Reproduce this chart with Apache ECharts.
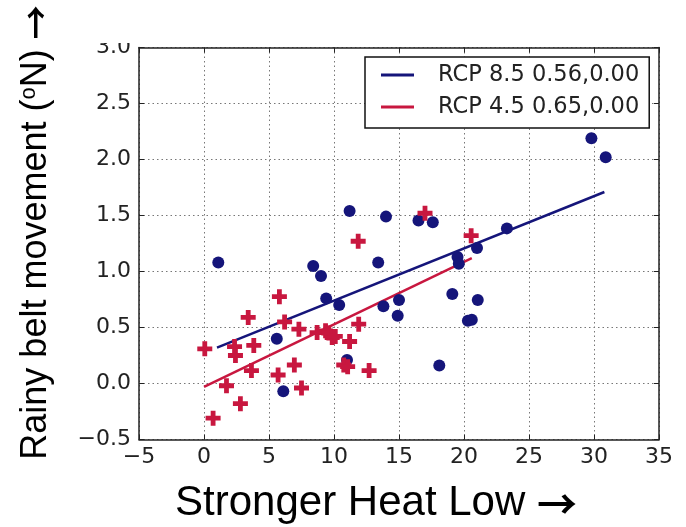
<!DOCTYPE html>
<html>
<head>
<meta charset="utf-8">
<script src="https://cdn.jsdelivr.net/npm/echarts@6/dist/echarts.min.js"></script>
<style>html,body{margin:0;padding:0;background:#fff}#c{width:686px;height:527px}</style>
</head>
<body>
<div id="c"></div>
<script>
// RCP 8.5 scatter (x, y)
const rcp85X = [1.1, 5.6, 6.1, 8.4, 9.0, 9.4, 10.4, 11.0, 11.2, 13.4, 13.8, 14.0, 15.0, 14.9, 16.5, 17.6, 18.1, 19.1, 19.5, 19.6, 20.3, 20.6, 21.0, 21.06, 23.3, 29.8, 30.9];
const rcp85Y = [1.08, 0.40, -0.07, 1.05, 0.96, 0.76, 0.70, 0.21, 1.54, 1.08, 0.69, 1.49, 0.745, 0.605, 1.455, 1.44, 0.16, 0.80, 1.13, 1.07, 0.56, 0.57, 1.21, 0.745, 1.385, 2.19, 2.02];
// RCP 4.5 scatter (x, y)
const rcp45X = [0.06, 0.7, 1.73, 2.35, 2.42, 2.8, 3.4, 3.83, 3.65, 5.8, 5.7, 6.2, 6.95, 7.3, 7.5, 8.7, 9.35, 9.6, 9.86, 10.1, 11.2, 10.75, 11.05, 11.9, 11.86, 12.7, 17.0, 20.55];
const rcp45Y = [0.31, -0.31, -0.02, 0.33, 0.25, -0.18, 0.59, 0.34, 0.115, 0.775, 0.076, 0.55, 0.165, 0.485, -0.04, 0.455, 0.47, 0.45, 0.41, 0.42, 0.375, 0.165, 0.15, 0.53, 1.27, 0.115, 1.52, 1.32];
// regression line endpoints
const fit85X = [1.0, 30.8];
const fit85Y = [0.32, 1.71];
const fit45X = [0.0, 20.6];
const fit45Y = [-0.03, 1.12];
const legendNames = ['RCP 8.5 0.56,0.00', 'RCP 4.5 0.65,0.00'];
const xTicks = { min: -5, max: 35, step: 5 };
const yTicks = { min: -0.5, max: 3.0, step: 0.5 };

const zip = (a, b) => a.map((v, i) => [v, b[i]]);
const minus = v => String(v).replace('-', '\u2212');
const blue = '#15157a';
const red = '#c8173f';
const tickFont = { fontFamily: 'DejaVu Sans', fontSize: 22, color: '#222' };
const plus = 'path://M3.4,0H6.6V3.4H10V6.6H6.6V10H3.4V6.6H0V3.4H3.4Z';

const gridLine = { show: true, lineStyle: { color: '#777', type: [1.5, 3], width: 1 } };
const spine = { show: true, onZero: false, lineStyle: { color: '#222', width: 1.5 } };
const tick = { show: true, inside: true, length: 5, lineStyle: { color: '#222', width: 1 } };

const chart = echarts.init(document.getElementById('c'), null, { renderer: 'canvas' });
chart.setOption({
  backgroundColor: '#fff',
  animation: false,
  grid: { left: 139, right: 27, top: 47.5, bottom: 87.5, containLabel: false, outerBoundsMode: 'none' },
  legend: {
    left: 365, top: 57,
    orient: 'vertical',
    data: legendNames,
    backgroundColor: '#fff',
    borderColor: '#111', borderWidth: 1.5, borderRadius: 0,
    padding: [6, 10, 9, 16],
    itemWidth: 33, itemHeight: 3, itemGap: 8,
    icon: 'rect',
    textStyle: { fontFamily: 'DejaVu Sans', fontSize: 22.5, color: '#222', lineHeight: 24, padding: [0, 0, 0, 19] }
  },
  xAxis: [{
    type: 'value', min: xTicks.min, max: xTicks.max, interval: xTicks.step,
    axisLine: spine, axisTick: tick, splitLine: gridLine,
    axisLabel: Object.assign({ margin: 7, formatter: minus }, tickFont),
    name: '{a|Stronger Heat Low }{r|\u2192}', nameLocation: 'middle', nameGap: 43,
    nameTextStyle: {
      padding: [0, 46, 0, 0],
      rich: {
        a: { fontFamily: 'Liberation Sans', fontSize: 42, color: '#000' },
        r: { fontFamily: 'Noto Sans CJK SC', fontWeight: 'bold', fontSize: 40, color: '#000' }
      }
    }
  }, {
    type: 'value', position: 'top', min: xTicks.min, max: xTicks.max, interval: xTicks.step,
    axisLine: spine, axisTick: tick, splitLine: { show: false }, axisLabel: { show: false }
  }],
  yAxis: [{
    type: 'value', min: yTicks.min, max: yTicks.max, interval: yTicks.step,
    axisLine: spine, axisTick: tick, splitLine: gridLine,
    axisLabel: Object.assign({ margin: 8, formatter: v => minus(v.toFixed(1)) }, tickFont),
    name: '{a|Rainy belt movement (}{s|o}{a|N) }{r|\u2192}', nameLocation: 'middle', nameGap: 85,
    nameTextStyle: {
      padding: [0, 0, 0, 22],
      rich: {
        a: { fontFamily: 'Liberation Sans', fontSize: 36, color: '#000' },
        s: { fontFamily: 'Liberation Sans', fontSize: 22, color: '#000', padding: [0, 0, 14, 0] },
        r: { fontFamily: 'Noto Sans CJK SC', fontWeight: 'bold', fontSize: 34, color: '#000' }
      }
    }
  }, {
    type: 'value', position: 'right', min: yTicks.min, max: yTicks.max, interval: yTicks.step,
    axisLine: spine, axisTick: tick, splitLine: { show: false }, axisLabel: { show: false }
  }],
  series: [
    { name: legendNames[0], type: 'line', data: zip(fit85X, fit85Y), showSymbol: false, symbol: 'none',
      lineStyle: { color: blue, width: 2.5 }, itemStyle: { color: blue }, z: 3 },
    { name: legendNames[1], type: 'line', data: zip(fit45X, fit45Y), showSymbol: false, symbol: 'none',
      lineStyle: { color: red, width: 2.5 }, itemStyle: { color: red }, z: 3 },
    { name: 'RCP 8.5 models', type: 'scatter', data: zip(rcp85X, rcp85Y), symbol: 'circle', symbolSize: 12,
      itemStyle: { color: blue, opacity: 1 }, z: 4 },
    { name: 'RCP 4.5 models', type: 'scatter', data: zip(rcp45X, rcp45Y), symbol: plus, symbolSize: 15,
      itemStyle: { color: red, opacity: 1 }, z: 5 }
  ],
  graphic: [{
    type: 'rect', left: 95, top: 0, shape: { width: 42, height: 43 }, style: { fill: '#fff' }, z: 100
  }]
});
</script>
</body>
</html>
